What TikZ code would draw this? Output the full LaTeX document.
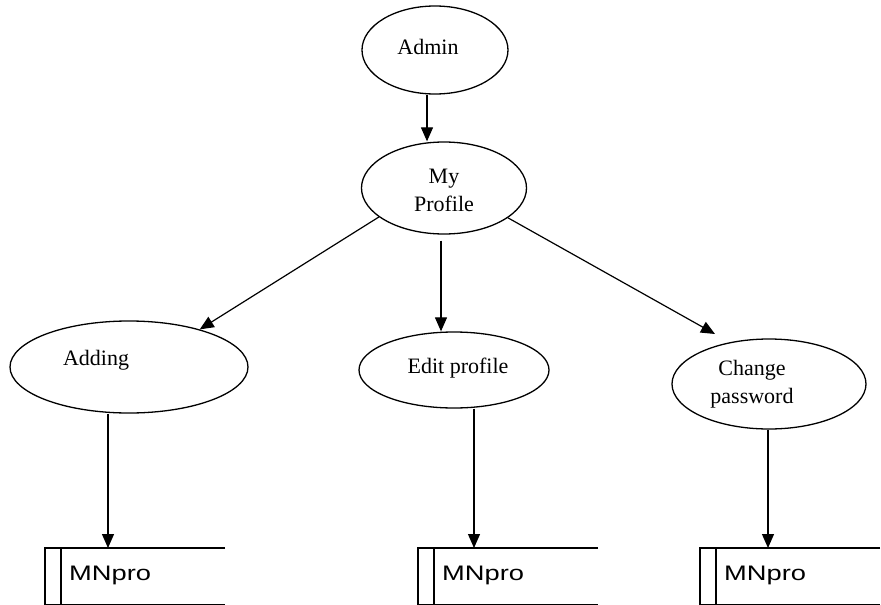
\documentclass[tikz,border=0pt]{standalone}
\usepackage{fontspec}
\setmainfont{Liberation Serif}
\setsansfont{Liberation Sans}
\usetikzlibrary{arrows.meta,shapes.geometric,calc}
\begin{document}
\begin{tikzpicture}[x=1pt,y=-1pt,
  proc/.style={ellipse,draw,line width=1.3pt,inner sep=0pt},
  lbl/.style={font=\fontsize{22}{28}\selectfont,align=center,inner sep=0pt},
  flow/.style={line width=1.2pt,-{Triangle[length=14pt,width=12pt]}},
  storeline/.style={line width=1.3pt},
  storetext/.style={font=\fontsize{21}{21}\sffamily,anchor=base west,inner sep=0pt}]
\useasboundingbox (0,0) rectangle (881,605);
% processes
\node[proc,minimum width=146pt,minimum height=88pt] (admin) at (435,50) {};
\node[lbl] (adminT) at (428,47) {Admin};
\node[proc,minimum width=165pt,minimum height=92pt] (prof) at (444,188) {};
\node[lbl] (profT) at (444,190) {My\\Profile};
\node[proc,minimum width=238pt,minimum height=92pt] (add) at (129,367) {};
\node[lbl] (addT) at (96,360) {Adding};
\node[proc,minimum width=190pt,minimum height=76pt] (edit) at (454,370) {};
\node[lbl] (editT) at (458,368) {Edit profile};
\node[proc,minimum width=194pt,minimum height=90pt] (chg) at (769,384) {};
\node[lbl] (chgT) at (752,384) {Change\\password};
% data stores
\foreach \n/\x in {s1/45,s2/418,s3/700}{
  \coordinate (\n) at (\x,548);
  \draw[storeline] ($(\n)+(180,0)$) -- (\n) -- ++(0,57) -- ++(180,0);
  \draw[storeline] ($(\n)+(16,0)$) -- ++(0,57);
  \node[storetext] (\n T) at ($(\n)+(24,32)$) {\scalebox{1.3}[1]{MNpro}};
}
% connectors
\coordinate (ap) at (427,0);
\draw[flow] (admin.south -| ap) -- (prof.north -| ap);
\draw[flow] (prof.204) -- (add.28);
\coordinate (pe) at (441,0);
\draw[flow,shorten <=6pt] (prof.south -| pe) -- (edit.north -| pe);
\coordinate (chgin) at (715,334);
\draw[flow] (prof.335) -- (chgin);
\coordinate (d1) at (108,548);
\coordinate (d2) at (474,548);
\coordinate (d3) at (768,548);
\draw[flow] (d1 |- add.south) -- (d1);
\draw[flow] (d2 |- edit.south) -- (d2);
\draw[flow] (d3 |- chg.south) -- (d3);
\end{tikzpicture}
\end{document}
